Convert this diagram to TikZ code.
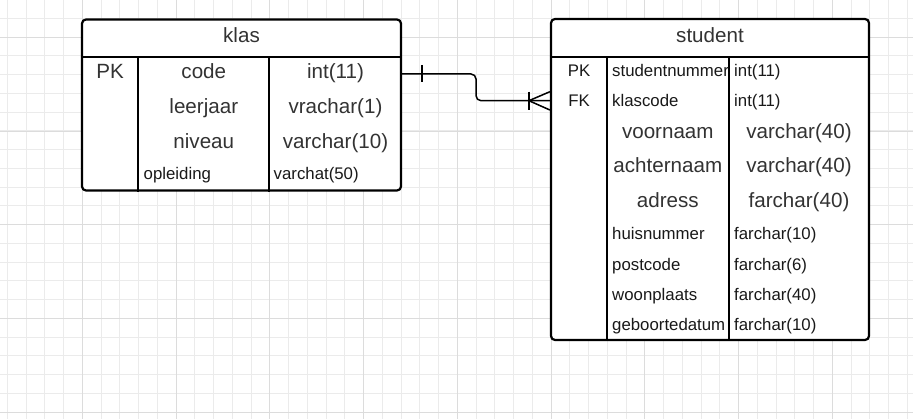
\documentclass[tikz,border=0pt]{standalone}
\usepackage{fontspec}
\setmainfont{Liberation Sans}
\usetikzlibrary{calc}
\definecolor{gridminor}{HTML}{EBEBEB}
\definecolor{gridmajor}{HTML}{DCDCDC}
\definecolor{txt}{HTML}{333333}
\begin{document}
\begin{tikzpicture}[x=1pt,y=-1pt,
  tbl/.style={draw=black, line width=2.2pt, fill=white, rounded corners=4pt, inner sep=0pt},
  sep/.style={draw=black, line width=2.2pt},
  big/.style={font=\fontsize{20.6}{24}\selectfont, text=txt, inner sep=0pt, anchor=base},
  small/.style={font=\fontsize{16.8}{20}\selectfont, text=black!90, inner sep=0pt, anchor=base},
  bigl/.style={big, anchor=base west},
  smalll/.style={small, anchor=base west},
  rel/.style={draw=black, line width=1.5pt}]
\useasboundingbox (0,0) rectangle (913,419);
\fill[white] (0,0) rectangle (913,419);
% grid
\foreach \i in {0,...,48} \draw[gridminor, line width=1pt] ({7.3+18.75*\i},0) -- ++(0,419);
\foreach \i in {1,...,22} \draw[gridminor, line width=1pt] (0,{-0.25+18.75*\i}) -- ++(913,0);
\foreach \i in {0,...,8} \draw[gridmajor, line width=1pt] ({82.3+93.75*\i},0) -- ++(0,419);
\foreach \i in {0,...,4} \draw[gridmajor, line width=1pt] (0,{37.3+93.75*\i}) -- ++(913,0);

% klas table
\node[tbl, minimum width=319pt, minimum height=171pt] (klas) at (241.5,105) {};
\draw[sep] (klas.west |- 0,56.7) -- (klas.east |- 0,56.7);
\draw[sep] (138.3,56.7) -- (138.3,0 |- klas.south);
\draw[sep] (269.3,56.7) -- (269.3,0 |- klas.south);
\node[big] (klasT) at (241.5,42.9) {klas};
\node[big] (kpk) at (110,78.7) {PK};
\node[big] (kcode) at (203.8,78.7) {code};
\node[big] (kleer) at (203.8,113.7) {leerjaar};
\node[big] (kniv) at (203.8,148.2) {niveau};
\node[smalll] (kopl) at (143.5,180) {opleiding};
\node[big] (kt1) at (335.5,78.7) {int(11)};
\node[big] (kt2) at (335.5,113.7) {vrachar(1)};
\node[big] (kt3) at (335.5,148.2) {varchar(10)};
\node[smalll] (kt4) at (273.5,180) {varchat(50)};

% student table
\node[tbl, minimum width=318pt, minimum height=321pt] (student) at (710,179.5) {};
\draw[sep] (student.west |- 0,56.7) -- (student.east |- 0,56.7);
\draw[sep] (606.7,56.7) -- (606.7,0 |- student.south);
\draw[sep] (729,56.7) -- (729,0 |- student.south);
\node[big] (studT) at (710,42.9) {student};
\node[small] (spk) at (579,76.8) {PK};
\node[small] (sfk) at (579,106.1) {FK};
\node[smalll] (snr) at (612,76.8) {studentnummer};
\node[smalll] (skc) at (612,106.1) {klascode};
\node[big] (svn) at (667.8,138.9) {voornaam};
\node[big] (san) at (667.8,172.2) {achternaam};
\node[big] (sad) at (667.8,207.2) {adress};
\node[smalll] (shn) at (612,239.4) {huisnummer};
\node[smalll] (spc) at (612,270.1) {postcode};
\node[smalll] (swp) at (612,300.4) {woonplaats};
\node[smalll] (sgd) at (612,330.4) {geboortedatum};
\node[smalll] (st1) at (734,76.8) {int(11)};
\node[smalll] (st2) at (734,106.1) {int(11)};
\node[big] (st3) at (799,138.9) {varchar(40)};
\node[big] (st4) at (799,172.2) {varchar(40)};
\node[big] (st5) at (799,207.2) {farchar(40)};
\node[smalll] (st6) at (734,239.4) {farchar(10)};
\node[smalll] (st7) at (734,270.1) {farchar(6)};
\node[smalll] (st8) at (734,300.4) {farchar(40)};
\node[smalll] (st9) at (734,330.4) {farchar(10)};

% relation
\coordinate (rA) at (klas.east |- 0,74);
\coordinate (rB) at (student.west |- 0,100.7);
\coordinate (rM) at ($(klas.east)!0.5!(student.west)$);
\draw[rel, rounded corners=5pt] (rA) -- (rA -| rM) -- (rM |- rB) -- (rB);
\draw[rel] ($(rA)+(20,-9)$) -- ++(0,17);
\draw[rel] ($(rB)+(-21,-9)$) -- ++(0,18);
\draw[rel] ($(rB)+(-21,0)$) -- ($(rB)+(0,-9)$);
\draw[rel] ($(rB)+(-21,0)$) -- ($(rB)+(0,9.3)$);
\end{tikzpicture}
\end{document}
